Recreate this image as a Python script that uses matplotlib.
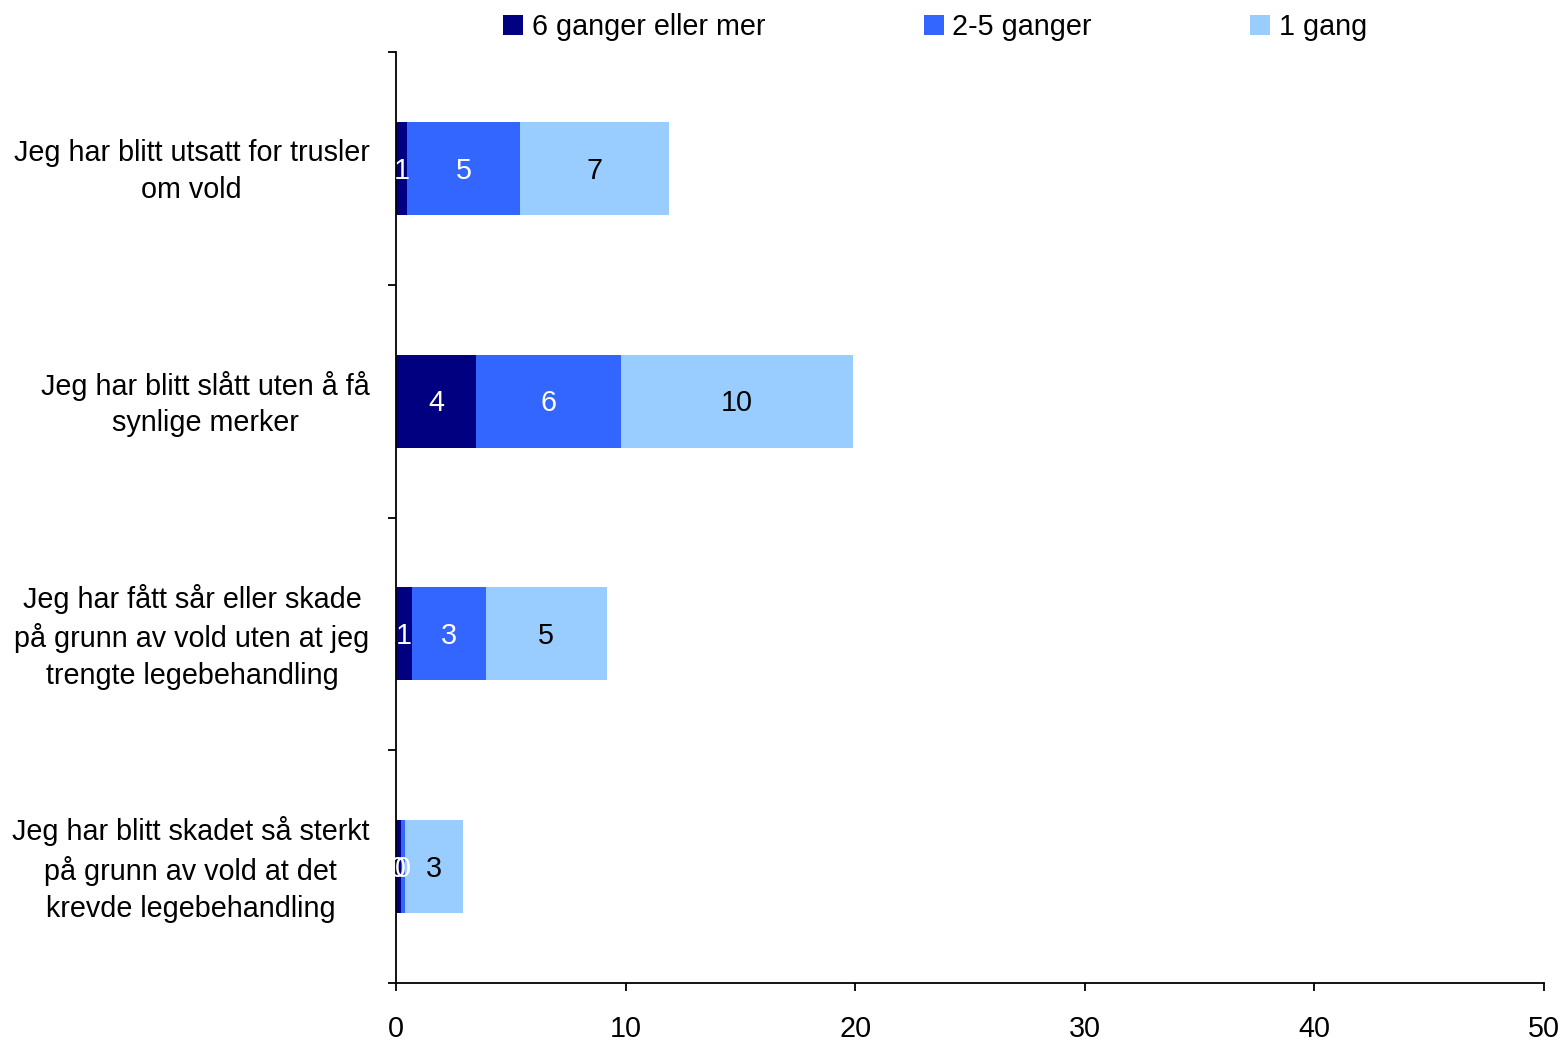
import math
import matplotlib
matplotlib.use("Agg")
import matplotlib.pyplot as plt
import matplotlib.transforms as mtransforms
import numpy as np

plt.rcParams['font.family'] = ['Liberation Sans', 'DejaVu Sans']

categories = [
    "Jeg har blitt utsatt for trusler\nom vold",
    "Jeg har blitt slått uten å få\nsynlige merker",
    "Jeg har fått sår eller skade\npå grunn av vold uten at jeg\ntrengte legebehandling",
    "Jeg har blitt skadet så sterkt\npå grunn av vold at det\nkrevde legebehandling",
]
series_names = ["6 ganger eller mer", "2-5 ganger", "1 gang"]
six_or_more = [0.5, 3.5, 0.7, 0.2]
two_to_five = [4.9, 6.3, 3.2, 0.2]
once = [6.5, 10.1, 5.3, 2.5]
x_ticks = [0, 10, 20, 30, 40, 50]

colors = ["#000080", "#3366FF", "#99CCFF"]
label_colors = ["white", "white", "black"]
FS = 20.7

fig = plt.figure(figsize=(15.62, 10.4), dpi=100)
ax = fig.add_axes([396 / 1562, 1 - 983 / 1040, (1544 - 396) / 1562, (983 - 52) / 1040])

y = np.arange(len(categories))
left = np.zeros(len(categories))
handles = []
for vals, name, col, lc in zip([six_or_more, two_to_five, once], series_names, colors, label_colors):
    vals = np.array(vals)
    bars = ax.barh(y, vals, left=left, height=0.4, color=col, label=name, linewidth=0)
    handles.append(bars)
    for yi, l, v in zip(y, left, vals):
        ax.text(l + v / 2, yi + 0.01, str(int(math.floor(v + 0.5))), ha='center', va='center',
                color=lc, fontsize=FS)
    left = left + vals

ax.set_xlim(0, 50)
ax.set_ylim(len(categories) - 0.5, -0.5)
ax.set_xticks(x_ticks)
ax.set_xticklabels([str(t) for t in x_ticks], fontsize=FS)
ax.tick_params(axis='x', direction='out', length=6, width=1.3, pad=17)

ax.set_yticks(np.arange(len(categories) + 1) - 0.5)
ax.set_yticklabels([])
ax.tick_params(axis='y', which='major', direction='out', length=6, width=1.3)
ax.set_yticks(y, minor=True)
ax.set_yticklabels(categories, minor=True, fontsize=FS, multialignment='center',
                   linespacing=1.4)
ax.tick_params(axis='y', which='minor', length=0, pad=19)
shift = mtransforms.ScaledTranslation(0, 0.045, fig.dpi_scale_trans)
for lbl in ax.get_yticklabels(minor=True):
    lbl.set_transform(lbl.get_transform() + shift)

for s in ['top', 'right']:
    ax.spines[s].set_visible(False)
for s in ['left', 'bottom']:
    ax.spines[s].set_linewidth(1.3)

fig.legend(handles=handles, labels=series_names, loc='center', ncol=3,
           bbox_to_anchor=(935 / 1562, 1 - 27 / 1040), frameon=False, fontsize=FS,
           handlelength=0.7, handleheight=0.7, handletextpad=0.3, columnspacing=5.5,
           borderpad=0, borderaxespad=0)

fig.savefig("out.png", dpi=100)
